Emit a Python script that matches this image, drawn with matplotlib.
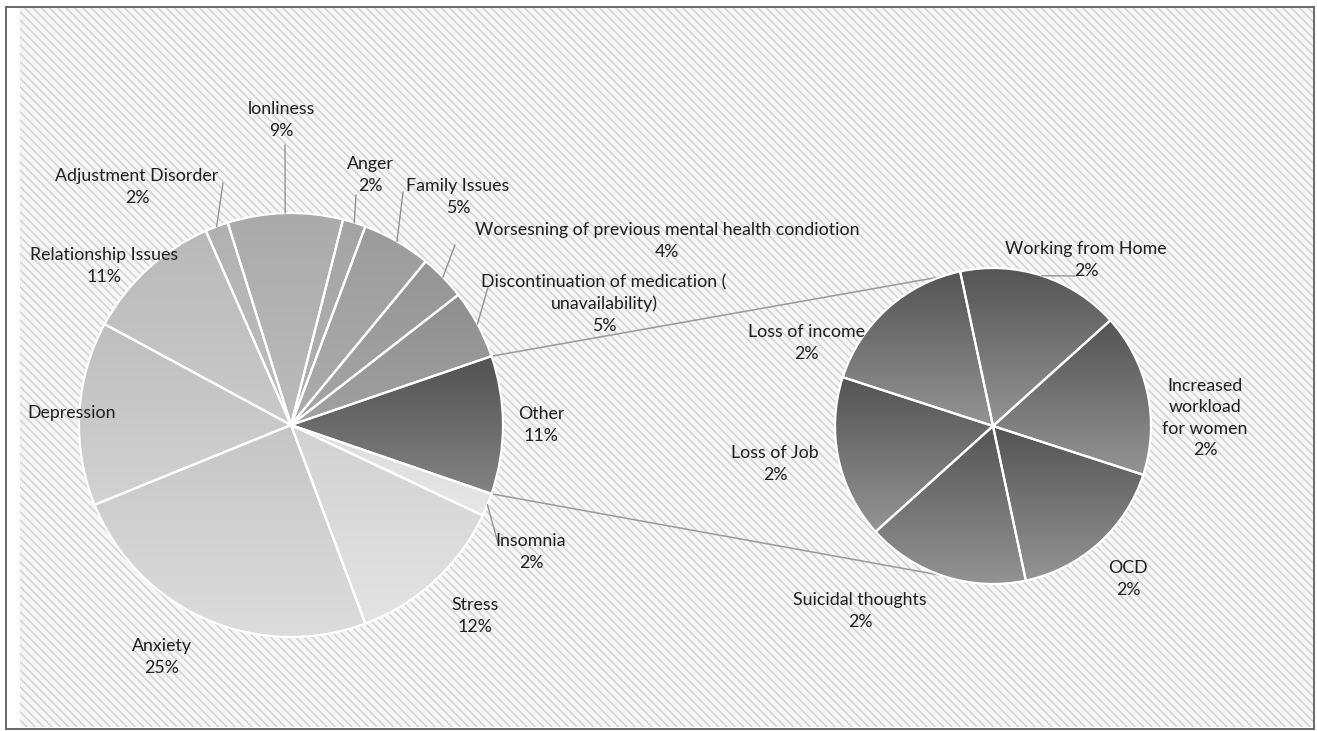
import numpy as np
import matplotlib.pyplot as plt
from matplotlib.colors import to_rgb
from matplotlib.patches import Rectangle

plt.rcParams["font.family"] = ["Lato", "DejaVu Sans"]
plt.rcParams["hatch.linewidth"] = 1.1

# Responses per concern (main pie, counter-clockwise from "Other")
main_names = [
    "Other",
    "Discontinuation of medication (\nunavailability)",
    "Worsesning of previous mental health condiotion",
    "Family Issues",
    "Anger",
    "lonliness",
    "Adjustment Disorder",
    "Relationship Issues",
    "Depression",
    "Anxiety",
    "Stress",
    "Insomnia",
]
main_counts = [None, 3, 2, 3, 1, 5, 1, 6, 8, 14, 7, 1]

# Breakdown of "Other" (secondary pie, clockwise from the top)
other_names = [
    "Working from Home",
    "Increased\nworkload\nfor women",
    "OCD",
    "Suicidal thoughts",
    "Loss of Job",
    "Loss of income",
]
other_counts = [1, 1, 1, 1, 1, 1]

main_counts[0] = sum(other_counts)
total = sum(main_counts)
hide_pct = {"Depression"}

# gradient colours per slice: (top, bottom)
main_colors = [
    ("#525252", "#838383"),
    ("#8e8e8e", "#a2a2a2"),
    ("#959595", "#a6a6a6"),
    ("#9c9c9c", "#acacac"),
    ("#a4a4a4", "#b2b2b2"),
    ("#aaaaaa", "#bcbcbc"),
    ("#b1b1b1", "#bfbfbf"),
    ("#b9b9b9", "#cacaca"),
    ("#bfbfbf", "#d2d2d2"),
    ("#c6c6c6", "#dddddd"),
    ("#d2d2d2", "#e3e3e3"),
    ("#dcdcdc", "#e7e7e7"),
]
other_colors = [("#545454", "#949494")] * 6

W, H = 1317, 731
main_c, main_r = (291, H - 425), 212
sub_c, sub_r = (993, H - 426), 158

# label anchors (pixel coords, y from top) and optional leader start
main_label_pos = [
    (541, 425, None),
    (604, 304, (488, 287)),
    (667, 241, (455, 245)),
    (458, 197, (403, 192)),
    (370, 175, (356, 195)),
    (281, 120, (285, 145)),
    (137, 187, (223, 183)),
    (104, 266, None),
    (72, 413, None),
    (162, 657, None),
    (475, 616, None),
    (531, 552, (498, 543)),
]
other_label_pos = [
    (1086, 260, (1075, 276)),
    (1205, 418, None),
    (1128, 579, None),
    (860, 611, None),
    (775, 464, None),
    (806, 343, None),
]

fig = plt.figure(figsize=(W / 100, H / 100), dpi=100)
ax = fig.add_axes([0, 0, 1, 1])

# chart frame with the diagonal-striped plot area
ax.add_patch(Rectangle((6, 2), 1308, 722, facecolor="white",
                       edgecolor="#5c5c5c", linewidth=1.3, zorder=0))
ax.add_patch(Rectangle((20, 4), 1293, 719, facecolor="#f6f6f6",
                       edgecolor="#d2d2d2", linewidth=0, hatch="\\\\\\\\",
                       zorder=0.5))


def shade(wedges, colors):
    for w, (top, bot) in zip(wedges, colors):
        verts = w.get_patch_transform().transform(w.get_path().vertices)
        x0, y0 = verts.min(axis=0)
        x1, y1 = verts.max(axis=0)
        t = np.linspace(0, 1, 64)[:, None]
        grad = np.array(to_rgb(top)) * (1 - t) + np.array(to_rgb(bot)) * t
        im = ax.imshow(grad[:, None, :], extent=(x0, x1, y0, y1),
                       origin="upper", aspect="auto", zorder=2,
                       interpolation="bilinear")
        im.set_clip_path(w)
        w.set_facecolor("none")
        w.set_zorder(3)


def pct(v):
    return f"{round(100 * v / total)}%"


def edge_point(w, center, r):
    mid = np.deg2rad((w.theta1 + w.theta2) / 2)
    return center[0] + r * np.cos(mid), center[1] + r * np.sin(mid)


wprops = dict(edgecolor="white", linewidth=1.6)
main_wedges, _ = ax.pie(main_counts, center=main_c, radius=main_r,
                        startangle=-180 * main_counts[0] / total,
                        counterclock=True, wedgeprops=wprops)
sub_wedges, _ = ax.pie(other_counts, center=sub_c, radius=sub_r,
                       startangle=102, counterclock=False, wedgeprops=wprops)
shade(main_wedges, main_colors)
shade(sub_wedges, other_colors)

# connector lines from the "Other" slice to the secondary pie
ow = main_wedges[0]
for th_main, th_sub in ((ow.theta2, 109), (ow.theta1, -109)):
    a, b = np.deg2rad(th_main), np.deg2rad(th_sub)
    ax.plot([main_c[0] + main_r * np.cos(a), sub_c[0] + sub_r * np.cos(b)],
            [main_c[1] + main_r * np.sin(a), sub_c[1] + sub_r * np.sin(b)],
            color="#9a9a9a", linewidth=1.1, zorder=1.5)

txt = dict(ha="center", va="center", fontsize=12.8, color="#1f1f1f",
           linespacing=1.42, zorder=5)


def put_labels(names, counts, wedges, positions, center, r):
    for name, v, w, (x, y, lead) in zip(names, counts, wedges, positions):
        label = name if name in hide_pct else f"{name}\n{pct(v)}"
        ax.text(x, H - y, label, **txt)
        if lead is not None:
            ex, ey = edge_point(w, center, r)
            ax.plot([lead[0], ex], [H - lead[1], ey], color="#8a8a8a",
                    linewidth=0.9, zorder=4)


put_labels(main_names, main_counts, main_wedges, main_label_pos, main_c, main_r)
put_labels(other_names, other_counts, sub_wedges, other_label_pos, sub_c, sub_r)

ax.set_xlim(0, W)
ax.set_ylim(0, H)
ax.set_aspect("equal")
ax.axis("off")

fig.savefig("out.png", dpi=100)
